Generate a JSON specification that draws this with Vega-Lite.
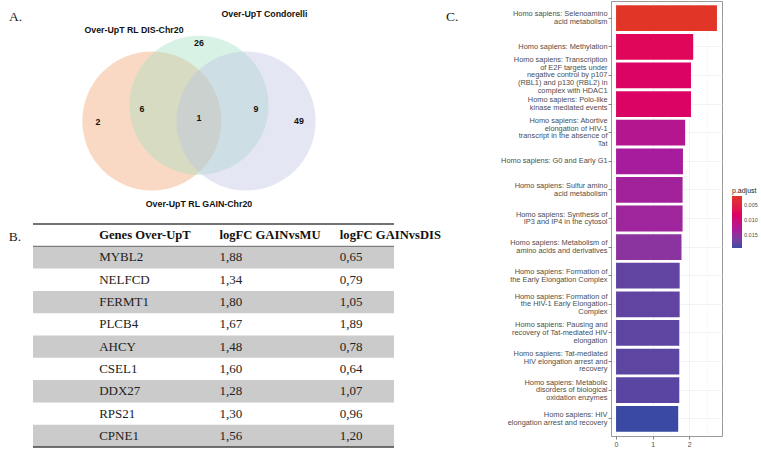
{
  "$schema": "https://vega.github.io/schema/vega-lite/v6.json",
  "padding": 0,
  "background": "white",
  "config": {"view": {"stroke": null}, "font": "Liberation Sans"},
  "datasets": {
    "venn_sets": [
      {"set": "Over-UpT RL DIS-Chr20", "x": -0.6, "y": 0},
      {"set": "Over-UpT Condorelli", "x": 0, "y": 0.2},
      {"set": "Over-UpT RL GAIN-Chr20", "x": 0.6, "y": 0}
    ],
    "venn_labels": [
      {"label": "Over-UpT RL DIS-Chr20", "x": -0.828, "y": 1.159},
      {"label": "Over-UpT Condorelli", "x": 0.834, "y": 1.363},
      {"label": "Over-UpT RL GAIN-Chr20", "x": 0, "y": -1.057}
    ],
    "venn_counts": [
      {"region": "DIS only", "count": 2, "x": -1.287, "y": -0.013},
      {"region": "DIS & Condorelli", "count": 6, "x": -0.726, "y": 0.153},
      {"region": "Condorelli only", "count": 26, "x": 0, "y": 0.994},
      {"region": "all three", "count": 1, "x": 0, "y": 0.038},
      {"region": "Condorelli & GAIN", "count": 9, "x": 0.726, "y": 0.153},
      {"region": "GAIN only", "count": 49, "x": 1.274, "y": 0}
    ],
    "genes": [
      {"gene": "Genes Over-UpT", "mu": "logFC GAINvsMU", "dis": "logFC GAINvsDIS"},
      {"gene": "MYBL2", "mu": "1,88", "dis": "0,65"},
      {"gene": "NELFCD", "mu": "1,34", "dis": "0,79"},
      {"gene": "FERMT1", "mu": "1,80", "dis": "1,05"},
      {"gene": "PLCB4", "mu": "1,67", "dis": "1,89"},
      {"gene": "AHCY", "mu": "1,48", "dis": "0,78"},
      {"gene": "CSEL1", "mu": "1,60", "dis": "0,64"},
      {"gene": "DDX27", "mu": "1,28", "dis": "1,07"},
      {"gene": "RPS21", "mu": "1,30", "dis": "0,96"},
      {"gene": "CPNE1", "mu": "1,56", "dis": "1,20"}
    ],
    "enrich": [
      {"term": "Homo sapiens: Selenoamino\nacid metabolism", "score": 2.76, "p_adjust": 0.0021},
      {"term": "Homo sapiens: Methylation", "score": 2.11, "p_adjust": 0.0075},
      {"term": "Homo sapiens: Transcription\nof E2F targets under\nnegative control by p107\n(RBL1) and p130 (RBL2) in\ncomplex with HDAC1", "score": 2.05, "p_adjust": 0.0085},
      {"term": "Homo sapiens: Polo-like\nkinase mediated events", "score": 2.05, "p_adjust": 0.0085},
      {"term": "Homo sapiens: Abortive\nelongation of HIV-1\ntranscript in the absence of\nTat", "score": 1.89, "p_adjust": 0.0125},
      {"term": "Homo sapiens: G0 and Early G1", "score": 1.83, "p_adjust": 0.0137},
      {"term": "Homo sapiens: Sulfur amino\nacid metabolism", "score": 1.82, "p_adjust": 0.014},
      {"term": "Homo sapiens: Synthesis of\nIP3 and IP4 in the cytosol", "score": 1.82, "p_adjust": 0.0142},
      {"term": "Homo sapiens: Metabolism of\namino acids and derivatives", "score": 1.79, "p_adjust": 0.0155},
      {"term": "Homo sapiens: Formation of\nthe Early Elongation Complex", "score": 1.74, "p_adjust": 0.0178},
      {"term": "Homo sapiens: Formation of\nthe HIV-1 Early Elongation\nComplex", "score": 1.74, "p_adjust": 0.0178},
      {"term": "Homo sapiens: Pausing and\nrecovery of Tat-mediated HIV\nelongation", "score": 1.73, "p_adjust": 0.018},
      {"term": "Homo sapiens: Tat-mediated\nHIV elongation arrest and\nrecovery", "score": 1.73, "p_adjust": 0.018},
      {"term": "Homo sapiens: Metabolic\ndisorders of biological\noxidation enzymes", "score": 1.73, "p_adjust": 0.0181},
      {"term": "Homo sapiens: HIV\nelongation arrest and recovery", "score": 1.7, "p_adjust": 0.0194}
    ]
  },
  "bounds": "flush",
  "spacing": 611,
  "hconcat": [
    {
      "bounds": "flush",
      "spacing": 0,
      "vconcat": [
        {
          "width": 400,
          "height": 223,
          "title": {"text": "A.", "anchor": "start", "frame": "group", "dx": 9, "offset": -22, "baseline": "top", "font": "Liberation Serif", "fontSize": 13.5, "fontWeight": "normal", "color": "#222"},
          "encoding": {
            "x": {"field": "x", "type": "quantitative", "scale": {"domain": [-2.535, 2.561], "nice": false, "zero": false}, "axis": null},
            "y": {"field": "y", "type": "quantitative", "scale": {"domain": [-1.312, 1.529], "nice": false, "zero": false}, "axis": null}
          },
          "layer": [
            {
              "data": {"name": "venn_sets"},
              "mark": {"type": "point", "filled": true, "shape": "circle", "size": 19359, "opacity": 0.4, "strokeWidth": 0},
              "encoding": {
                "color": {"field": "set", "type": "nominal", "scale": {"domain": ["Over-UpT RL DIS-Chr20", "Over-UpT Condorelli", "Over-UpT RL GAIN-Chr20"], "range": ["#f2a06b", "#a0dec0", "#bbc3e1"]}, "legend": null}
              }
            },
            {
              "data": {"name": "venn_labels"},
              "mark": {"type": "text", "fontWeight": "bold", "fontSize": 8.8, "color": "#111", "font": "Liberation Sans"},
              "encoding": {"text": {"field": "label"}}
            },
            {
              "data": {"name": "venn_counts"},
              "mark": {"type": "text", "fontWeight": "bold", "fontSize": 8.8, "color": "#111", "font": "Liberation Sans"},
              "encoding": {"text": {"field": "count"}}
            }
          ]
        },
        {
          "bounds": "flush",
          "spacing": 3,
          "hconcat": [
            {
              "width": 30,
              "height": 25,
              "data": {"values": [{"panel": "B."}]},
              "mark": {"type": "text", "font": "Liberation Serif", "fontSize": 13.5, "color": "#222"},
              "encoding": {"text": {"field": "panel"}}
            },
            {
              "width": 361,
              "height": 223,
              "data": {"name": "genes"},
              "encoding": {
                "y": {"field": "gene", "type": "nominal", "scale": {"domain": ["Genes Over-UpT", "MYBL2", "NELFCD", "FERMT1", "PLCB4", "AHCY", "CSEL1", "DDX27", "RPS21", "CPNE1"], "paddingInner": 0, "paddingOuter": 0}, "axis": null}
              },
              "layer": [
                {
                  "transform": [
                    {"window": [{"op": "row_number", "as": "rn"}]},
                    {"filter": "datum.rn % 2 === 0"}
                  ],
                  "mark": {"type": "rect", "color": "#cbcbcb"}
                },
                {
                  "transform": [{"filter": "datum.gene === 'Genes Over-UpT'"}],
                  "mark": {"type": "rule", "color": "#444", "strokeWidth": 1.6},
                  "encoding": {"y": {"field": "gene", "type": "nominal", "bandPosition": 0}}
                },
                {
                  "transform": [{"filter": "datum.gene === 'Genes Over-UpT'"}],
                  "mark": {"type": "rule", "color": "#666", "strokeWidth": 1},
                  "encoding": {"y": {"field": "gene", "type": "nominal", "bandPosition": 1}}
                },
                {
                  "transform": [{"filter": "datum.gene === 'CPNE1'"}],
                  "mark": {"type": "rule", "color": "#444", "strokeWidth": 1.6},
                  "encoding": {"y": {"field": "gene", "type": "nominal", "bandPosition": 1}}
                },
                {
                  "transform": [
                    {"filter": "datum.gene !== 'Genes Over-UpT'"},
                    {"fold": ["gene", "mu", "dis"]}
                  ],
                  "mark": {"type": "text", "align": "left", "dx": 6, "font": "Liberation Serif", "fontSize": 13, "color": "#222"},
                  "encoding": {
                    "x": {"field": "key", "type": "nominal", "bandPosition": 0, "scale": {"domain": ["gene", "mu", "dis"], "paddingInner": 0, "paddingOuter": 0}, "axis": null},
                    "text": {"field": "value"}
                  }
                },
                {
                  "transform": [
                    {"filter": "datum.gene === 'Genes Over-UpT'"},
                    {"fold": ["gene", "mu", "dis"]}
                  ],
                  "mark": {"type": "text", "align": "left", "dx": 6, "font": "Liberation Serif", "fontSize": 12.6, "fontWeight": "bold", "color": "#111"},
                  "encoding": {
                    "x": {"field": "key", "type": "nominal", "bandPosition": 0, "scale": {"domain": ["gene", "mu", "dis"], "paddingInner": 0, "paddingOuter": 0}, "axis": null},
                    "text": {"field": "value"}
                  }
                }
              ]
            }
          ]
        }
      ]
    },
    {
      "width": 111,
      "height": 435,
      "view": {"stroke": "#9a9a9a", "strokeWidth": 1},
      "title": {"text": "C.", "anchor": "start", "frame": "group", "dx": -165, "offset": -22, "baseline": "top", "font": "Liberation Serif", "fontSize": 13.5, "fontWeight": "normal", "color": "#222"},
      "data": {"name": "enrich"},
      "mark": {"type": "bar"},
      "encoding": {
        "y": {
          "field": "term", "type": "nominal", "sort": null,
          "scale": {"paddingInner": 0.1, "paddingOuter": 0.15},
          "axis": {
            "title": null, "labelExpr": "split(datum.label, '\\n')", "labelAlign": "right", "labelBaseline": "middle",
            "labelFont": "Liberation Sans", "labelFontSize": 7.4, "labelLineHeight": 7.6, "labelColor": "#4d4d4d",
            "labelOffset": {
              "condition": [
                {"test": "length(split(datum.value, '\\n')) === 5", "value": -15.2},
                {"test": "length(split(datum.value, '\\n')) === 4", "value": -11.4},
                {"test": "length(split(datum.value, '\\n')) === 3", "value": -7.6},
                {"test": "length(split(datum.value, '\\n')) === 2", "value": -3.8}
              ],
              "value": 0
            },
            "tickColor": "#333", "tickSize": 3, "tickWidth": 0.6, "labelPadding": 1, "labelLimit": 250, "domain": false,
            "grid": true, "gridColor": "#ebebeb", "gridWidth": 0.6
          }
        },
        "x": {
          "field": "score", "type": "quantitative",
          "scale": {"domain": [-0.138, 2.898], "nice": false, "zero": false},
          "axis": {
            "title": "score", "titleFont": "Liberation Sans", "titleFontSize": 8.5, "titleFontWeight": "normal", "titleColor": "#222", "titlePadding": 0,
            "values": [0, 0.5, 1, 1.5, 2, 2.5],
            "labelExpr": "datum.value % 1 === 0 ? format(datum.value, 'd') : ''",
            "labelFont": "Liberation Sans", "labelFontSize": 7, "labelColor": "#4d4d4d", "labelPadding": 1,
            "domain": false, "tickColor": "#333", "tickSize": 3, "tickWidth": 0.6,
            "tickOpacity": {"condition": {"test": "datum.value % 1 !== 0", "value": 0}, "value": 1},
            "grid": true, "gridColor": "#ebebeb",
            "gridWidth": {"condition": {"test": "datum.value % 1 !== 0", "value": 0.3}, "value": 0.6}
          }
        },
        "color": {
          "field": "p_adjust", "type": "quantitative",
          "scale": {"domain": [0.0194, 0.0021], "range": ["#3a4aa4", "#a81a9c", "#e0005e", "#e03527"], "interpolate": "lab"},
          "legend": {"title": "p.adjust", "orient": "none", "legendX": 121, "legendY": 186, "direction": "vertical", "gradientLength": 52, "gradientThickness": 10, "gradientStrokeWidth": 0, "values": [0.005, 0.01, 0.015], "format": ".3f", "labelFont": "Liberation Sans", "labelFontSize": 5.5, "labelColor": "#4d4d4d", "titleFont": "Liberation Sans", "titleFontSize": 7, "titleFontWeight": "normal", "titleColor": "#222", "titlePadding": 2}
        }
      }
    }
  ]
}
